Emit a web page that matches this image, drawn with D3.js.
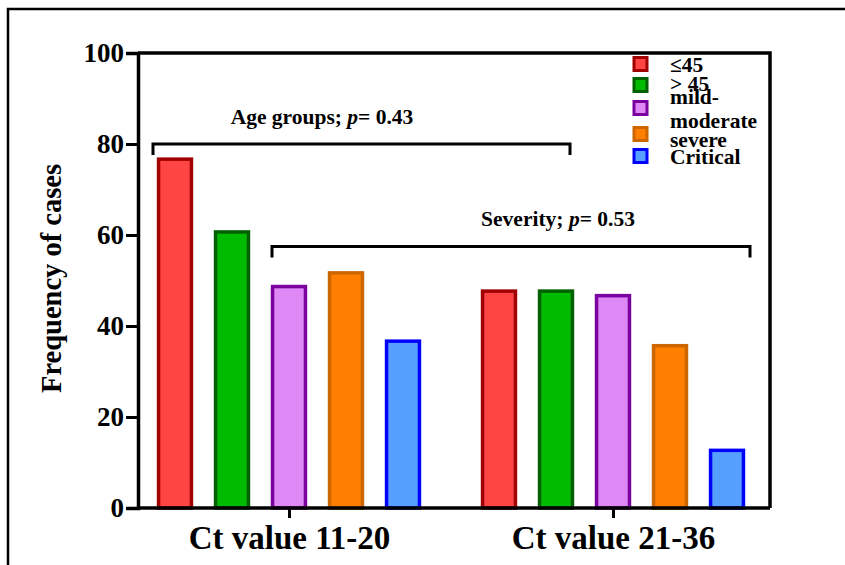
<!DOCTYPE html>
<html>
<head>
<meta charset="utf-8">
<script src="https://cdn.jsdelivr.net/npm/d3@7"></script>
<style>
body { margin: 0; background: #fff; }
text { font-family: "Liberation Serif", "Times New Roman", serif; font-weight: bold; }
</style>
</head>
<body>
<svg width="845" height="565"></svg>
<script>
// groups along x
var groups = ['Ct value 11-20', 'Ct value 21-36']
// series (legend order)
var seriesNames = ['≤45', '> 45', 'mild-moderate', 'severe', 'Critical']
var fills   = ['#FF4444', '#00BB00', '#DD88F5', '#FF8000', '#55A0FF']
var strokes = ['#A00000', '#006000', '#7A00A0', '#CC6600', '#0000FF']
// values per group, in series order
var ct1120 = [77, 61, 49, 52, 37]
var ct2136 = [48, 48, 47, 36, 13]
var yTicks = [0, 20, 40, 60, 80, 100]

var svg = d3.select('svg')

// outer frame (left + top)
svg.append('path').attr('d', 'M8,565 V9 H845').attr('fill', 'none').attr('stroke', '#000').attr('stroke-width', 2.5)

var pLeft = 138, pRight = 770, pTop = 53, pBottom = 508

var y = d3.scaleLinear().domain([0, 100]).range([pBottom, pTop])
var x0 = d3.scalePoint().domain(groups).range([289, 613])
var x1 = d3.scaleBand().domain(seriesNames).range([-142.5, 142.5]).paddingInner(0.37).paddingOuter(0.185)

var data = groups.map(function(g, i) {
	var vals = i == 0 ? ct1120 : ct2136
	return { group: g, vals: vals }
})

// bars
var g = svg.append('g')
data.forEach(function(d) {
	g.selectAll(null)
		.data(d.vals)
		.enter().append('rect')
			.attr('x', function(v, i) { return x0(d.group) + x1(seriesNames[i]) + 1.5 })
			.attr('y', function(v) { return y(v) + 1.5 })
			.attr('width', x1.bandwidth() - 3)
			.attr('height', function(v) { return pBottom - y(v) - 1.5 })
			.attr('fill', function(v, i) { return fills[i] })
			.attr('stroke', function(v, i) { return strokes[i] })
			.attr('stroke-width', 3.5)
})

// plot box (top + right)
svg.append('path').attr('d', 'M' + pLeft + ',' + pTop + ' H' + pRight + ' V' + pBottom)
	.attr('fill', 'none').attr('stroke', '#000').attr('stroke-width', 3.5)

// y axis
var yAxis = svg.append('g').attr('transform', 'translate(' + pLeft + ',0)')
	.call(d3.axisLeft(y).tickValues(yTicks).tickSize(12).tickPadding(2))
yAxis.select('.domain').attr('stroke-width', 3.5)
yAxis.selectAll('.tick line').attr('stroke-width', 3)
yAxis.selectAll('text').attr('font-size', 27).attr('fill', '#000')
	.style('font-family', '"Liberation Serif", serif').style('font-weight', 'bold')

// x axis
var xAxis = svg.append('g').attr('transform', 'translate(0,' + pBottom + ')')
	.call(d3.axisBottom(x0).tickSize(10).tickPadding(8))
xAxis.select('.domain').attr('d', 'M' + pLeft + ',0H' + pRight).attr('stroke-width', 3.5)
xAxis.selectAll('.tick line').attr('stroke-width', 3)
xAxis.selectAll('text').attr('font-size', 33).attr('fill', '#000')
	.style('font-family', '"Liberation Serif", serif').style('font-weight', 'bold')

// y title
svg.append('text')
	.attr('transform', 'translate(61,' + ((pTop + pBottom) / 2 - 2) + ') rotate(-90)')
	.attr('text-anchor', 'middle')
	.attr('font-size', 28.5)
	.text('Frequency of cases')

// significance brackets
function bracket(xa, xb, yv, label, px, lbl) {
	svg.append('path')
		.attr('d', 'M' + xa + ',' + (yv + 11) + ' V' + yv + ' H' + xb + ' V' + (yv + 11))
		.attr('fill', 'none').attr('stroke', '#000').attr('stroke-width', 3)
	var t = svg.append('text').attr('x', px).attr('y', yv - 20).attr('text-anchor', 'middle').attr('font-size', 21.5)
	t.append('tspan').text(label + '; ')
	t.append('tspan').attr('font-style', 'italic').text('p')
	t.append('tspan').text('= ' + lbl)
}
bracket(153, 570, y(80), 'Age groups', 322, '0.43')
bracket(272, 750, y(57.5), 'Severity', 558, '0.53')

// legend
var legY = [64, 85, 108, 134, 156]
var leg = svg.append('g')
seriesNames.forEach(function(s, i) {
	leg.append('rect')
		.attr('x', 634).attr('y', legY[i] - 6.5)
		.attr('width', 13).attr('height', 13)
		.attr('fill', fills[i]).attr('stroke', strokes[i]).attr('stroke-width', 3)
})
var legText = [
	['≤45', 72], ['> 45', 91], ['mild-', 104], ['moderate', 128], ['severe', 147], ['Critical', 164]
]
legText.forEach(function(t) {
	leg.append('text').attr('x', 670).attr('y', t[1]).attr('font-size', 21.5).text(t[0])
})
</script>
</body>
</html>
